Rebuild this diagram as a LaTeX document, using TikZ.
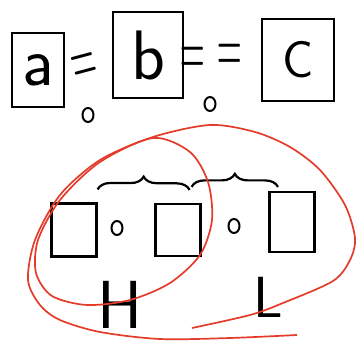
\documentclass[tikz,border=0pt]{standalone}
\usepackage{xcolor}
\usepackage{graphicx}
\usepackage{tikz}
\usetikzlibrary{positioning,shapes.geometric,decorations.pathreplacing}
\definecolor{penred}{HTML}{E53B2B}

\tikzset{
  sq/.style={draw, line width=2.2pt, inner sep=0pt},
  dot/.style={draw, ellipse, line width=2pt, minimum width=11pt, minimum height=14pt, inner sep=0pt},
  eqs/.style={font=\fontsize{34}{34}\selectfont, inner sep=0pt},
  grp/.style={decorate, decoration={brace, amplitude=13pt}, line width=2.2pt},
  loop/.style={draw=penred, line width=1.7pt},
}

\begin{document}
\begin{tikzpicture}[x=1pt,y=-1pt]
  \useasboundingbox (0,0) rectangle (357,345);
  % top row
  \node[sq, minimum width=52pt, minimum height=74pt, font=\sffamily\fontsize{70}{70}\selectfont] (a) at (38,70) {a};
  \node[sq, minimum width=70pt, minimum height=86pt, font=\sffamily\fontsize{70}{70}\selectfont] (b) at (148,55) {b};
  \node[sq, minimum width=72pt, minimum height=82pt, font=\sffamily\fontsize{52}{52}\selectfont] (c) at (298,60) {C};
  \node[eqs, rotate=15] (eq1) at (85,70) {\scalebox{1}[2.5]{=}};
  \node[eqs] (eq2) at (193,62) {\scalebox{1}[2.5]{=}};
  \node[eqs] (eq3) at (230,59) {\scalebox{1}[2.5]{=}};
  \node[dot] (o1) at (88,115) {};
  \node[dot] (o2) at (210,104) {};
  % bottom row
  \node[sq, minimum width=45pt, minimum height=53pt] (l1) at (74,230) {};
  \node[dot] (o3) at (117,228) {};
  \node[sq, minimum width=45pt, minimum height=52pt] (l2) at (178,230) {};
  \node[dot] (o4) at (234,226) {};
  \node[sq, minimum width=45pt, minimum height=60pt] (l3) at (292,222) {};
  \draw[grp] ([yshift=13pt]l1.north east) -- ([xshift=-12pt,yshift=13pt]l2.north east);
  \draw[grp] ([xshift=-10pt,yshift=16pt]l2.north east) -- ([xshift=-14pt,yshift=4pt]l3.north);
  \node[font=\sffamily\fontsize{68}{68}\selectfont] (h) at (120,305) {H};
  \node[font=\sffamily\fontsize{58}{58}\selectfont] (l) at (268,297) {L};
  % red loops
  \draw[loop] plot[smooth cycle] coordinates {(153,138) (190,152) (208,182) (212,220) (200,255)
    (170,283) (130,300) (87,305) (52,296) (36,273) (38,240) (60,200) (100,162)};
  \draw[loop] plot[smooth] coordinates {(192,328) (250,315) (283,303) (333,281) (350,260) (355,238)
    (345,205) (320,170) (290,147) (255,132) (210,125) (153,137) (100,160) (60,195) (35,240)
    (28,280) (40,305) (60,320) (100,332) (160,339) (230,338) (297,335)};
\end{tikzpicture}
\end{document}
